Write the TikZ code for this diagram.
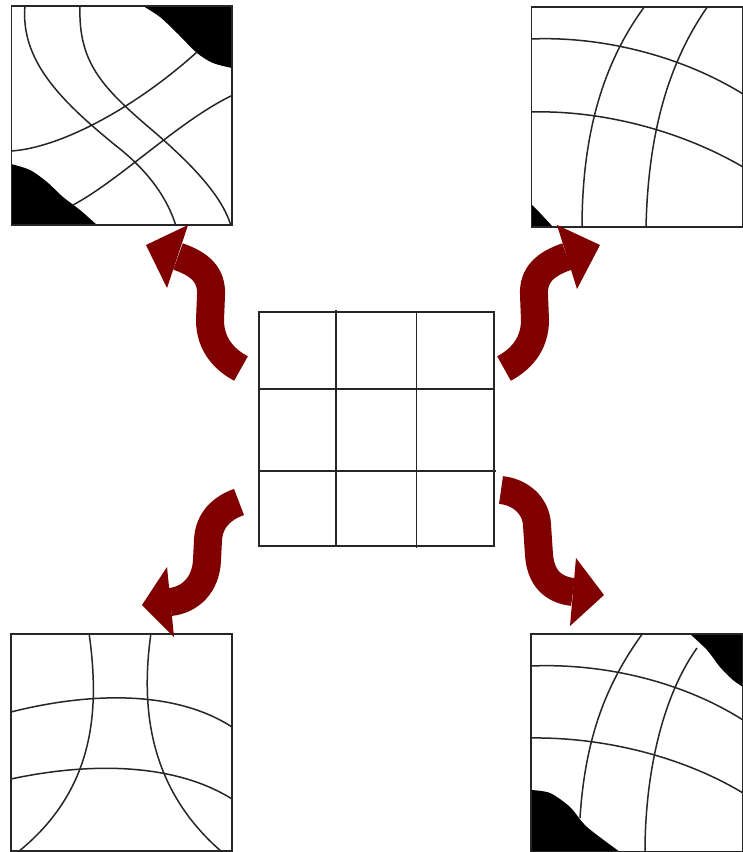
\documentclass[tikz,border=0pt]{standalone}
\definecolor{maroonc}{HTML}{800000}
\tikzset{
  frame/.style={draw=black!85, line width=1.1pt},
  warp/.style={draw=black!85, line width=1.5pt},
  blot/.style={fill=black},
  shaft/.style={draw=maroonc, line width=28pt},
  head/.style={fill=maroonc},
  gridline/.style={draw=black!85, line width=1.3pt}
}
\begin{document}
\begin{tikzpicture}[x=1pt,y=-1pt]
\useasboundingbox (0,0) rectangle (743,852);
\fill[white] (0,0) rectangle (743,852);

% ---------- top-left panel ----------
\begin{scope}
\clip (11.5,6) rectangle (232,225);
\fill[blot] plot[smooth] coordinates {(143,6) (160,17) (177,33) (197,53) (213,63) (232,68)} -- (233,5) -- cycle;
\fill[blot] plot[smooth] coordinates {(11,164) (30,170) (47,182) (63,197) (80,210) (97,225)} -- (10,226) -- cycle;
\draw[warp] (25,5) .. controls (20,60) and (60,100) .. (115,145) .. controls (150,172) and (168,200) .. (176,226);
\draw[warp] (80,5) .. controls (78,60) and (100,85) .. (145,124) .. controls (190,162) and (222,195) .. (231,226);
\draw[warp] (11,151) .. controls (60,148) and (135,108) .. (197,52);
\draw[warp] (73,205) .. controls (120,180) and (180,120) .. (233,95);
\end{scope}
\draw[frame] (11.5,6) rectangle (232,225);

% ---------- top-right panel ----------
\begin{scope}
\clip (531.5,7) rectangle (742.5,227);
\fill[blot] (532,205) -- (540,213) -- (553,227) -- (531,228) -- cycle;
\draw[warp] (531,39) .. controls (600,36) and (680,55) .. (743,94);
\draw[warp] (531,112) .. controls (600,110) and (680,130) .. (743,167);
\draw[warp] (645,6) .. controls (605,60) and (582,130) .. (582,228);
\draw[warp] (708,6) .. controls (670,60) and (648,130) .. (646,228);
\end{scope}
\draw[frame] (531.5,7) rectangle (742.5,227);

% ---------- bottom-left panel ----------
\begin{scope}
\clip (11,634) rectangle (232,851);
\draw[warp] (89,633) .. controls (100,710) and (95,790) .. (18,852);
\draw[warp] (151,633) .. controls (140,710) and (150,790) .. (222,852);
\draw[warp] (11,712) .. controls (90,692) and (175,690) .. (232,727);
\draw[warp] (11,779) .. controls (80,764) and (170,760) .. (232,799);
\end{scope}
\draw[frame] (11,634) rectangle (232,851);

% ---------- bottom-right panel ----------
\begin{scope}
\clip (531,634) rectangle (742.5,851.5);
\fill[blot] plot[smooth] coordinates {(690,634) (707,650) (720,667) (733,680) (743,687)} -- (744,633) -- cycle;
\fill[blot] plot[smooth] coordinates {(531,790) (550,793) (570,807) (587,827) (620,852)} -- (530,853) -- cycle;
\draw[warp] (531,666) .. controls (600,663) and (680,680) .. (743,720);
\draw[warp] (531,738) .. controls (600,737) and (680,755) .. (743,793);
\draw[warp] (643,633) .. controls (605,685) and (585,740) .. (580,818);
\draw[warp] (697,648) .. controls (660,700) and (645,780) .. (645,852);
\end{scope}
\draw[frame] (531,634) rectangle (742.5,851.5);

% ---------- centre grid ----------
\draw[gridline] (259,312) rectangle (494,546);
\draw[gridline] (336,310) -- (336,546);
\draw[gridline] (416.5,312) -- (416.5,548);
\draw[gridline] (258,389) -- (494,389);
\draw[gridline] (259,471) -- (496,471);

% ---------- arrows ----------
% top-left
\draw[shaft] (178,256.5) .. controls (200,264) and (212,275) .. (211,295) -- (210,320) .. controls (210,345) and (225,360) .. (241,368.5);
\fill[head] (146,245) -- (188,225) -- (167,288) -- cycle;
% top-right
\draw[shaft] (567,256.5) .. controls (545,264) and (533,275) .. (534,295) -- (535,320) .. controls (535,345) and (520,360) .. (504,368.5);
\fill[head] (600,245) -- (557,225) -- (577,289) -- cycle;
% bottom-left
\draw[shaft] (239,502) .. controls (222,508) and (209,520) .. (208,540) -- (207,560) .. controls (206,585) and (190,600) .. (170,602);
\fill[head] (142,605) -- (167,567) -- (174,637) -- cycle;
% bottom-right
\draw[shaft] (501,490) .. controls (520,492) and (536,505) .. (537,525) -- (539,555) .. controls (541,580) and (555,590) .. (573,592);
\fill[head] (604,595) -- (576,558) -- (570,626) -- cycle;
\end{tikzpicture}
\end{document}
